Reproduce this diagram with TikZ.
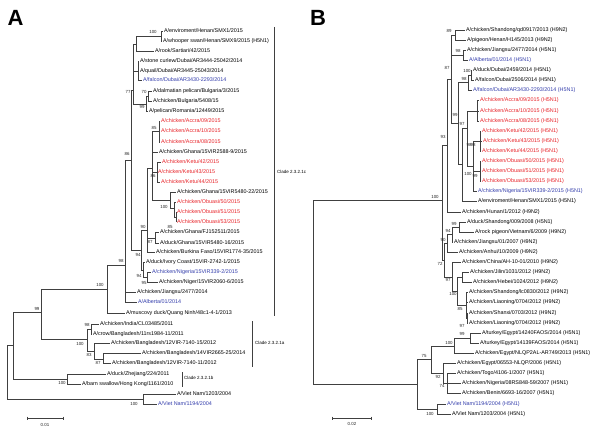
\documentclass[tikz,border=0pt]{standalone}
\usepackage{fontspec}
\setmainfont{Liberation Sans}
\usepackage{tikz}
\definecolor{isored}{RGB}{232,34,40}
\definecolor{refblue}{RGB}{52,62,172}

\begin{document}
\begin{tikzpicture}[x=1pt, y=-1pt,
    br/.style={black!75, line width=0.45pt},
    lf/.style={anchor=west, inner sep=0.8pt, font=\fontsize{5.4}{6}\selectfont},
    bs/.style={inner sep=0pt, font=\fontsize{4.4}{5}\selectfont, text=black!85},
    cl/.style={anchor=west, inner sep=0pt, font=\fontsize{4.5}{5}\selectfont}]

    \useasboundingbox[fill=white] (0,0) rectangle (600,436);

    % Panel letters
    \node[font=\fontsize{22}{22}\selectfont\bfseries] (pA) at (15.5,18) {A};
    \node[font=\fontsize{22}{22}\selectfont\bfseries] (pB) at (318,17.5) {B};

    % ---------------- Panel A: leaves ----------------
    \node[lf] (a1) at (163,31) {A/enviroment/Henan/SMX1/2015};
    \node[lf] (a2) at (162,41) {A/whooper swan/Henan/SMX9/2015 (H5N1)};
    \node[lf] (a3) at (154,51) {A/rook/Sartiari/42/2015};
    \node[lf] (a4) at (139,61) {A/stone curlew/Dubai/AR3444-25042/2014};
    \node[lf] (a5) at (139,71) {A/quail/Dubai/AR3445-25043/2014};
    \node[lf, text=refblue] (a6) at (142,80) {A/falcon/Dubai/AR3430-2293/2014};
    \node[lf] (a7) at (152,91) {A/dalmatian pelican/Bulgaria/3/2015};
    \node[lf] (a8) at (152,101) {A/chicken/Bulgaria/5408/15};
    \node[lf] (a9) at (148,111) {A/pelican/Romania/12449/2015};
    \node[lf, text=isored] (a10) at (160,121) {A/chicken/Accra/09/2015};
    \node[lf, text=isored] (a11) at (160,131) {A/chicken/Accra/10/2015};
    \node[lf, text=isored] (a12) at (160,142) {A/chicken/Accra/08/2015};
    \node[lf] (a13) at (158,152) {A/chicken/Ghana/15VIR2588-9/2015};
    \node[lf, text=isored] (a14) at (161,162) {A/chicken/Ketu/42/2015};
    \node[lf, text=isored] (a15) at (157,172) {A/chicken/Ketu/43/2015};
    \node[lf, text=isored] (a16) at (160,182) {A/chicken/Ketu/44/2015};
    \node[lf] (a17) at (176,192) {A/chicken/Ghana/15VIR5480-22/2015};
    \node[lf, text=isored] (a18) at (176,202) {A/chicken/Obuasi/50/2015};
    \node[lf, text=isored] (a19) at (176,212) {A/chicken/Obuasi/51/2015};
    \node[lf, text=isored] (a20) at (176,222) {A/chicken/Obuasi/53/2015};
    \node[lf] (a21) at (159,232) {A/chicken/Ghana/FJ152511/2015};
    \node[lf] (a22) at (159,243) {A/duck/Ghana/15VIR5480-16/2015};
    \node[lf] (a23) at (155,252) {A/chicken/Burkina Faso/15VIR1774-35/2015};
    \node[lf] (a24) at (145,262) {A/duck/Ivory Coast/15VIR-2742-1/2015};
    \node[lf, text=refblue] (a25) at (151,272) {A/chicken/Nigeria/15VIR339-2/2015};
    \node[lf] (a26) at (158,282) {A/chicken/Niger/15VIR2060-6/2015};
    \node[lf] (a27) at (136,292) {A/chicken/Jiangsu/2477/2014};
    \node[lf, text=refblue] (a28) at (137,302) {A/Alberta/01/2014};
    \node[lf] (a29) at (125,313) {A/muscovy duck/Quang Ninh/48c1-4-1/2013};
    \node[lf] (a30) at (99,324) {A/chicken/India/CL03485/2011};
    \node[lf] (a31) at (92,334) {A/crow/Bangladesh/11rs1984-11/2011};
    \node[lf] (a32) at (110,343) {A/chicken/Bangladesh/12VIR-7140-15/2012};
    \node[lf] (a33) at (141,353) {A/chicken/Bangladesh/14VIR2665-25/2014};
    \node[lf] (a34) at (111,363) {A/chicken/Bangladesh/12VIR-7140-11/2012};
    \node[lf] (a35) at (106,374) {A/duck/Zhejiang/224/2011};
    \node[lf] (a36) at (81,384) {A/barn swallow/Hong Kong/1161/2010};
    \node[lf] (a37) at (176,394) {A/Viet Nam/1203/2004};
    \node[lf, text=refblue] (a38) at (157,404) {A/Viet Nam/1194/2004};

    % Panel A: inner nodes
    \coordinate (EW) at (161,36);
    \coordinate (T) at (136,44);
    \coordinate (DB) at (138,71);
    \coordinate (DP) at (148,96);
    \coordinate (P99) at (146,104);
    \coordinate (U77) at (133,90);
    \coordinate (A85) at (159,131);
    \coordinate (KT) at (157,172);
    \coordinate (OBp) at (176,217);
    \coordinate (OBn) at (174,208);
    \coordinate (G100) at (170,200);
    \coordinate (AKO) at (152,168);
    \coordinate (FJ87) at (155,238);
    \coordinate (G90) at (147,230);
    \coordinate (NN) at (147,277);
    \coordinate (WA) at (143,270);
    \coordinate (G94) at (141,250);
    \coordinate (K86) at (131,160);
    \coordinate (N4) at (125,265);
    \coordinate (N3) at (107,289);
    \coordinate (IC) at (91,329);
    \coordinate (B2) at (103,359);
    \coordinate (B1) at (94,351);
    \coordinate (A1) at (87,339);
    \coordinate (N2) at (41,312);
    \coordinate (Cb) at (67,379);
    \coordinate (N1) at (13,345);
    \coordinate (V) at (143,399);
    \coordinate (RA) at (7,372);

    % Panel A: branches
    \draw[br] (EW) |- (a1.west) (EW) |- (a2.west);
    \draw[br] (T) |- (EW) (T) |- (a3.west);
    \draw[br] (DB) |- (a4.west) (DB) |- (a5.west) (DB) |- (a6.west);
    \draw[br] (DP) |- (a7.west) (DP) |- (a8.west);
    \draw[br] (P99) |- (DP) (P99) |- (a9.west);
    \draw[br] (U77) |- (T) (U77) |- (DB) (U77) |- (P99);
    \draw[br] (A85) |- (a10.west) (A85) |- (a11.west) (A85) |- (a12.west);
    \draw[br] (KT) |- (a14.west) (KT) |- (a15.west) (KT) |- (a16.west);
    \draw[br] (OBp) |- (a19.west) (OBp) |- (a20.west);
    \draw[br] (OBn) |- (a18.west) (OBn) |- (OBp);
    \draw[br] (G100) |- (a17.west) (G100) |- (OBn);
    \draw[br] (AKO) |- (A85) (AKO) |- (a13.west) (AKO) |- (KT) (AKO) |- (G100);
    \draw[br] (FJ87) |- (a21.west) (FJ87) |- (a22.west);
    \draw[br] (G90) |- (AKO) (G90) |- (FJ87) (G90) |- (a23.west);
    \draw[br] (NN) |- (a25.west) (NN) |- (a26.west);
    \draw[br] (WA) |- (a24.west) (WA) |- (NN);
    \draw[br] (G94) |- (G90) (G94) |- (WA);
    \draw[br] (K86) |- (U77) (K86) |- (G94);
    \draw[br] (N4) |- (K86) (N4) |- (a27.west) (N4) |- (a28.west);
    \draw[br] (N3) |- (N4) (N3) |- (a29.west);
    \draw[br] (IC) |- (a30.west) (IC) |- (a31.west);
    \draw[br] (B2) |- (a33.west) (B2) |- (a34.west);
    \draw[br] (B1) |- (a32.west) (B1) |- (B2);
    \draw[br] (A1) |- (IC) (A1) |- (B1);
    \draw[br] (N2) |- (N3) (N2) |- (A1);
    \draw[br] (Cb) |- (a35.west) (Cb) |- (a36.west);
    \draw[br] (N1) |- (N2) (N1) |- (Cb);
    \draw[br] (V) |- (a37.west) (V) |- (a38.west);
    \draw[br] (RA) |- (N1) (RA) |- (V);

    % Panel A: bootstrap values
    \node[bs] (lEW) at (153,32) {100};
    \node[bs] (lU77) at (128,92) {77};
    \node[bs] (lDP) at (144,92) {70};
    \node[bs] (lP99) at (142,107) {99};
    \node[bs] (lA85) at (154,128) {85};
    \node[bs] (lK86) at (127,154) {86};
    \node[bs] (lKT) at (153,176) {86};
    \node[bs] (lG100) at (164,207) {100};
    \node[bs] (lOBp) at (170,227) {85};
    \node[bs] (lG90) at (143,227) {90};
    \node[bs] (lFJ87) at (150,242) {87};
    \node[bs] (lG94) at (138,255) {94};
    \node[bs] (lWA) at (139,276) {94};
    \node[bs] (lNN) at (144,283) {95};
    \node[bs] (lN4) at (121,261) {98};
    \node[bs] (lN3) at (100,285) {100};
    \node[bs] (lN2) at (37,309) {99};
    \node[bs] (lIC) at (87,325) {98};
    \node[bs] (lA1) at (80,344) {100};
    \node[bs] (lB1) at (89,355) {83};
    \node[bs] (lB2) at (98,363) {87};
    \node[bs] (lCb) at (62,383) {100};
    \node[bs] (lV) at (134,404) {100};

    % Panel A: clades
    \draw[br] (274,27) -- (274,316);
    \node[cl] (cc) at (277,172) {Clade 2.3.2.1c};
    \draw[br] (252,321) -- (252,367);
    \node[cl] (ca) at (255,343) {Clade 2.3.2.1a};
    \draw[br] (182,372) -- (182,387);
    \node[cl] (cb) at (184,378) {Clade 2.3.2.1b};

    % Panel A: scale
    \draw[br] (27,418) -- (63,418);
    \draw[br] (27,416.5) -- (27,419.5) (63,416.5) -- (63,419.5);
    \node[bs] (sA) at (45,425) {0.01};

    % ---------------- Panel B: leaves ----------------
    \node[lf] (b1) at (465,30) {A/chicken/Shandong/qd0917/2013 (H9N2)};
    \node[lf] (b2) at (466,40) {A/pigeon/Henan/H145/2013 (H9N2)};
    \node[lf] (b3) at (466,50) {A/chicken/Jiangsu/2477/2014 (H5N1)};
    \node[lf, text=refblue] (b4) at (468,60) {A/Alberta/01/2014 (H5N1)};
    \node[lf] (b5) at (472,70) {A/duck/Dubai/2459/2014 (H5N1)};
    \node[lf] (b6) at (474,80) {A/falcon/Dubai/2506/2014 (H5N1)};
    \node[lf, text=refblue] (b7) at (472,90) {A/falcon/Dubai/AR3430-2293/2014 (H5N1)};
    \node[lf, text=isored] (b8) at (479,100) {A/chicken/Accra/09/2015 (H5N1)};
    \node[lf, text=isored] (b9) at (479,111) {A/chicken/Accra/10/2015 (H5N1)};
    \node[lf, text=isored] (b10) at (479,121) {A/chicken/Accra/08/2015 (H5N1)};
    \node[lf, text=isored] (b11) at (481,131) {A/chicken/Ketu/42/2015 (H5N1)};
    \node[lf, text=isored] (b12) at (482,141) {A/chicken/Ketu/43/2015 (H5N1)};
    \node[lf, text=isored] (b13) at (481,151) {A/chicken/Ketu/44/2015 (H5N1)};
    \node[lf, text=isored] (b14) at (481,161) {A/chicken/Obuasi/50/2015 (H5N1)};
    \node[lf, text=isored] (b15) at (481,171) {A/chicken/Obuasi/51/2015 (H5N1)};
    \node[lf, text=isored] (b16) at (481,181) {A/chicken/Obuasi/53/2015 (H5N1)};
    \node[lf, text=refblue] (b17) at (477,191) {A/chicken/Nigeria/15VIR339-2/2015 (H5N1)};
    \node[lf] (b18) at (477,201) {A/enviroment/Henan/SMX1/2015 (H5N1)};
    \node[lf] (b19) at (461,212) {A/chicken/Hunan/1/2012 (H9N2)};
    \node[lf] (b20) at (466,222) {A/duck/Shandong/009/2008 (H5N1)};
    \node[lf] (b21) at (474,232) {A/rock pigeon/Vietnam/6/2009 (H9N2)};
    \node[lf] (b22) at (453,242) {A/chicken/Jiangsu/01/2007 (H9N2)};
    \node[lf] (b23) at (458,252) {A/chicken/Anhui/10/2009 (H9N2)};
    \node[lf] (b24) at (461,262) {A/chicken/China/AH-10-01/2010 (H9N2)};
    \node[lf] (b25) at (469,272) {A/chicken/Jilin/1031/2012 (H9N2)};
    \node[lf] (b26) at (472,282) {A/chicken/Hebei/1024/2012 (H9N2)};
    \node[lf] (b27) at (468,292) {A/chicken/Shandong/lc0830/2012 (H9N2)};
    \node[lf] (b28) at (468,302) {A/chicken/Liaoning/0704/2012 (H9N2)};
    \node[lf] (b29) at (468,313) {A/chicken/Shanxi/0703/2012 (H9N2)};
    \node[lf] (b30) at (468,323) {A/chicken/Liaoning/0704/2012 (H9N2)};
    \node[lf] (b31) at (481,333) {A/turkey/Egypt/14240FAOS/2014 (H5N1)};
    \node[lf] (b32) at (479,343) {A/turkey/Egypt/14139FAOS/2014 (H5N1)};
    \node[lf] (b33) at (474,353) {A/chicken/Egypt/NLQP2AL-AR749/2013 (H5N1)};
    \node[lf] (b34) at (456,363) {A/chicken/Egypt/06553-NLQP/2006 (H5N1)};
    \node[lf] (b35) at (456,373) {A/chicken/Togo/4106-1/2007 (H5N1)};
    \node[lf] (b36) at (461,383) {A/chicken/Nigeria/08RS848-59/2007 (H5N1)};
    \node[lf] (b37) at (461,393) {A/chicken/Benin/6693-16/2007 (H5N1)};
    \node[lf, text=refblue] (b38) at (446,404) {A/Viet Nam/1194/2004 (H5N1)};
    \node[lf] (b39) at (451,414) {A/Viet Nam/1203/2004 (H5N1)};

    % Panel B: inner nodes
    \coordinate (Bsd) at (455,35);
    \coordinate (Bja) at (463,55);
    \coordinate (Bdd) at (471,75);
    \coordinate (Bd98) at (468,82);
    \coordinate (Bac) at (477,111);
    \coordinate (Bkt) at (480,141);
    \coordinate (Bob) at (480,171);
    \coordinate (Bkn) at (473,166);
    \coordinate (Bg97) at (467,128);
    \coordinate (B462) at (462,164);
    \coordinate (Bx) at (458,123);
    \coordinate (Bk87) at (451,79);
    \coordinate (Bg93) at (447,145);
    \coordinate (Bds) at (459,227);
    \coordinate (Bn94) at (452,234);
    \coordinate (Bn90) at (447,243);
    \coordinate (Bjh) at (462,277);
    \coordinate (Bsl2) at (467,318);
    \coordinate (Bsl) at (466,305);
    \coordinate (Bn100) at (457,291);
    \coordinate (Bn97) at (452,277);
    \coordinate (Bf72) at (444,260);
    \coordinate (Bh) at (442,200);
    \coordinate (Btp) at (470,338);
    \coordinate (Be1) at (454,346);
    \coordinate (Be3) at (447,383);
    \coordinate (Be2) at (443,373);
    \coordinate (Be) at (431,359);
    \coordinate (Bvn) at (437,409);
    \coordinate (Bv0) at (417,384);
    \coordinate (Broot) at (313,292);

    % Panel B: branches
    \draw[br] (Bsd) |- (b1.west) (Bsd) |- (b2.west);
    \draw[br] (Bja) |- (b3.west) (Bja) |- (b4.west);
    \draw[br] (Bdd) |- (b5.west) (Bdd) |- (b6.west);
    \draw[br] (Bd98) |- (Bdd) (Bd98) |- (b7.west);
    \draw[br] (Bac) |- (b8.west) (Bac) |- (b9.west) (Bac) |- (b10.west);
    \draw[br] (Bkt) |- (b11.west) (Bkt) |- (b12.west) (Bkt) |- (b13.west);
    \draw[br] (Bob) |- (b14.west) (Bob) |- (b15.west) (Bob) |- (b16.west);
    \draw[br] (Bkn) |- (Bkt) (Bkn) |- (Bob) (Bkn) |- (b17.west);
    \draw[br] (Bg97) |- (Bac) (Bg97) |- (Bkn);
    \draw[br] (B462) |- (Bg97) (B462) |- (b18.west);
    \draw[br] (Bx) |- (Bd98) (Bx) |- (B462);
    \draw[br] (Bk87) |- (Bsd) (Bk87) |- (Bja) (Bk87) |- (Bx);
    \draw[br] (Bg93) |- (Bk87) (Bg93) |- (b19.west);
    \draw[br] (Bds) |- (b20.west) (Bds) |- (b21.west);
    \draw[br] (Bn94) |- (Bds) (Bn94) |- (b22.west);
    \draw[br] (Bn90) |- (Bn94) (Bn90) |- (b23.west);
    \draw[br] (Bjh) |- (b25.west) (Bjh) |- (b26.west);
    \draw[br] (Bsl2) |- (b29.west) (Bsl2) |- (b30.west);
    \draw[br] (Bsl) |- (b27.west) (Bsl) |- (b28.west) (Bsl) |- (Bsl2);
    \draw[br] (Bn100) |- (Bjh) (Bn100) |- (Bsl);
    \draw[br] (Bn97) |- (b24.west) (Bn97) |- (Bn100);
    \draw[br] (Bf72) |- (Bn90) (Bf72) |- (Bn97);
    \draw[br] (Bh) |- (Bg93) (Bh) |- (Bf72);
    \draw[br] (Btp) |- (b31.west) (Btp) |- (b32.west);
    \draw[br] (Be1) |- (Btp) (Be1) |- (b33.west);
    \draw[br] (Be3) |- (b35.west) (Be3) |- (b36.west) (Be3) |- (b37.west);
    \draw[br] (Be2) |- (b34.west) (Be2) |- (Be3);
    \draw[br] (Be) |- (Be1) (Be) |- (Be2);
    \draw[br] (Bvn) |- (b38.west) (Bvn) |- (b39.west);
    \draw[br] (Bv0) |- (Be) (Bv0) |- (Bvn);
    \draw[br] (Broot) |- (Bh) (Broot) |- (Bv0);

    % Panel B: bootstrap values
    \node[bs] (mSd) at (449,31) {89};
    \node[bs] (mJa) at (458,51) {98};
    \node[bs] (mDd) at (467,71) {100};
    \node[bs] (mD98) at (464,79) {98};
    \node[bs] (mKt) at (469,145) {98};
    \node[bs] (mKt2) at (473,145) {98};
    \node[bs] (mKn) at (468,174) {100};
    \node[bs] (mOb) at (475,176) {99};
    \node[bs] (mG97) at (462,124) {97};
    \node[bs] (mX) at (455,115) {99};
    \node[bs] (mK87) at (447,68) {87};
    \node[bs] (mG93) at (443,137) {93};
    \node[bs] (mH) at (435,197) {100};
    \node[bs] (mDs) at (454,224) {99};
    \node[bs] (mN94) at (448,231) {94};
    \node[bs] (mN90) at (443,240) {90};
    \node[bs] (mF72) at (440,264) {72};
    \node[bs] (mN97) at (448,280) {97};
    \node[bs] (mN100) at (453,294) {100};
    \node[bs] (mSl) at (460,309) {85};
    \node[bs] (mSl2) at (462,326) {97};
    \node[bs] (mTp) at (462,334) {99};
    \node[bs] (mE1) at (449,343) {100};
    \node[bs] (mE) at (424,356) {75};
    \node[bs] (mE2) at (438,377) {92};
    \node[bs] (mE3) at (442,386) {74};
    \node[bs] (mVn) at (430,414) {100};

    % Panel B: scale
    \draw[br] (332,418) -- (371,418);
    \draw[br] (332,416.5) -- (332,419.5) (371,416.5) -- (371,419.5);
    \node[bs] (sB) at (352,424) {0.02};

\end{tikzpicture}
\end{document}
